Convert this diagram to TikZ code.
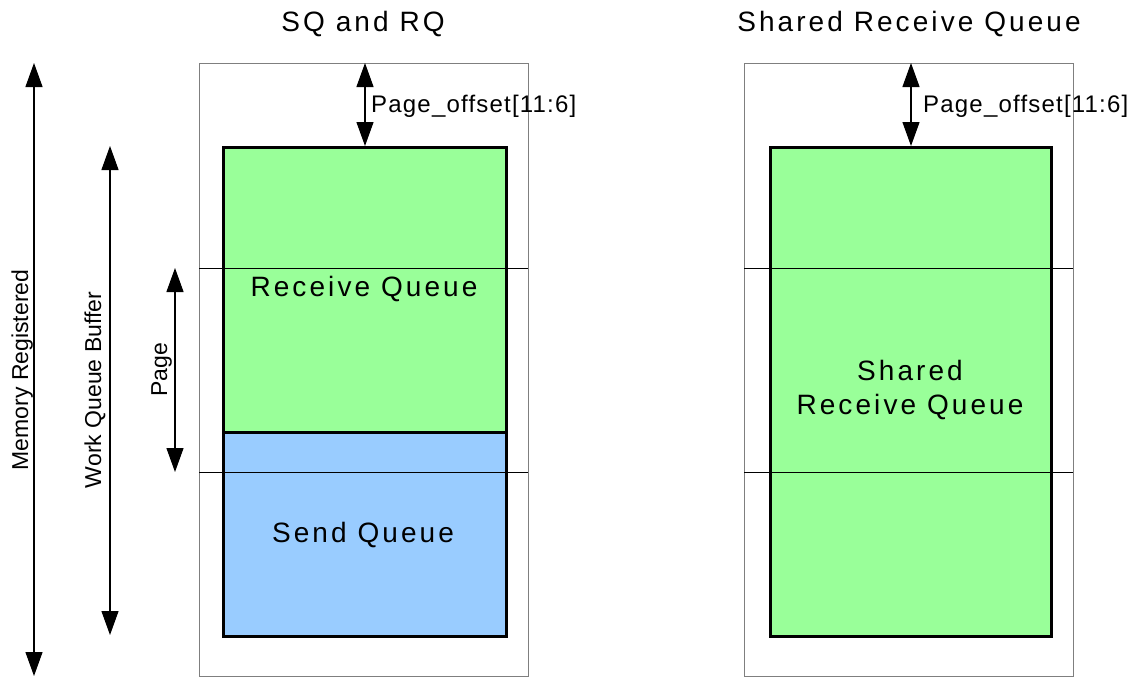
\documentclass[tikz,border=0pt]{standalone}
\usepackage{fontspec}
\setmainfont{Liberation Sans}
\newfontfamily\wideface[LetterSpace=11]{Liberation Sans}
\newfontfamily\midface[LetterSpace=5]{Liberation Sans}
\usetikzlibrary{arrows.meta}
\definecolor{qgreen}{HTML}{99FF99}
\definecolor{qblue}{HTML}{99CCFF}
\definecolor{framegrey}{HTML}{7F7F7F}
\tikzset{
  frame/.style={draw=framegrey, line width=1pt, rectangle, inner sep=0pt, anchor=north west},
  qbox/.style={draw=black, line width=3pt, rectangle, inner sep=0pt, anchor=north west},
  divider/.style={draw=black, line width=0.8pt},
  dim/.style={draw=black, line width=1.2pt, {Triangle[length=24pt,width=17pt]}-{Triangle[length=24pt,width=17pt]}},
  bigtext/.style={font=\wideface\fontsize{28}{34}\selectfont, inner sep=0pt},
  smalltext/.style={font=\midface\fontsize{24}{28}\selectfont, inner sep=0pt},
  sidetext/.style={font=\fontsize{23}{28}\selectfont, inner sep=0pt, rotate=90, anchor=base}
}
\begin{document}
\begin{tikzpicture}[x=1pt, y=-1pt]
\useasboundingbox (0,0) rectangle (1137,677);
% left structure
\node[frame, minimum width=329pt, minimum height=613pt] (outerL) at (199,63) {};
\node[qbox, fill=qgreen, minimum width=283pt, minimum height=285pt] (greenL) at (222,146) {};
\node[qbox, fill=qblue, minimum width=283pt, minimum height=204pt] (blueL) at (222,431) {};
\coordinate (l1a) at (199,268); \coordinate (l1b) at (528,268);
\coordinate (l2a) at (199,472); \coordinate (l2b) at (528,472);
\draw[divider] (l1a) -- (l1b);
\draw[divider] (l2a) -- (l2b);
% right structure
\node[frame, minimum width=329pt, minimum height=613pt] (outerR) at (744,63) {};
\node[qbox, fill=qgreen, minimum width=281pt, minimum height=489pt] (greenR) at (769,146) {};
\coordinate (r1a) at (744,268); \coordinate (r1b) at (1073,268);
\coordinate (r2a) at (744,472); \coordinate (r2b) at (1073,472);
\draw[divider] (r1a) -- (r1b);
\draw[divider] (r2a) -- (r2b);
% titles
\node[bigtext, anchor=base] (t1) at (363,32) {SQ and RQ};
\node[bigtext, anchor=base] (t2) at (909,32) {Shared Receive Queue};
% box labels
\node[bigtext, anchor=base] (rq) at (364,296) {Receive Queue};
\node[bigtext, anchor=base] (sq) at (363,542) {Send Queue};
\node[bigtext, align=center] (srq) at (910,390) {Shared\\Receive Queue};
% page offset arrows
\coordinate (poL) at (greenL.north |- outerL.north);
\coordinate (poR) at (greenR.north |- outerR.north);
\draw[dim] (poL) -- (greenL.north);
\draw[dim] (poR) -- (greenR.north);
\node[smalltext, anchor=base west] (poLt) at (371,112) {Page\_offset[11:6]};
\node[smalltext, anchor=base west] (poRt) at (923,112) {Page\_offset[11:6]};
% side arrows
\coordinate (mrT) at (34,63); \coordinate (mrB) at (34,676);
\coordinate (wqT) at (110,146); \coordinate (wqB) at (110,635);
\coordinate (pgT) at (175,268); \coordinate (pgB) at (175,472);
\draw[dim] (mrT) -- (mrB);
\draw[dim] (wqT) -- (wqB);
\draw[dim] (pgT) -- (pgB);
\node[sidetext] (mr) at (28,370) {Memory Registered};
\node[sidetext] (wq) at (101,390) {Work Queue Buffer};
\node[sidetext] (pg) at (167,370) {Page};
\end{tikzpicture}
\end{document}
